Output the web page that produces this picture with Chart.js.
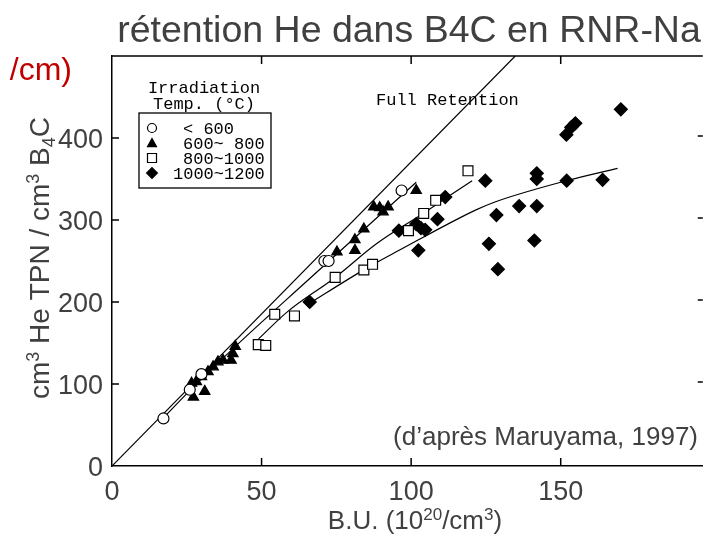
<!DOCTYPE html>
<html>
<head>
<meta charset="utf-8">
<script src="https://cdn.jsdelivr.net/npm/chart.js@4.4.1/dist/chart.umd.min.js"></script>
<style>
  html, body { margin: 0; padding: 0; background: #fff; }
  #wrap { width: 711px; height: 535px; }
</style>
</head>
<body>
<div id="wrap"><canvas id="chart" width="711" height="535"></canvas></div>
<script>
// --- values (B.U. in 1e20/cm3, He in cm3 TPN / cm3 B4C)
const xTicks = [0, 50, 100, 150];
const yTicks = [0, 100, 200, 300, 400];

// < 600 °C
const circleX = [17.2, 26.0, 29.9, 71.0, 72.4, 96.8];
const circleY = [58, 93, 112, 250, 250, 336];
// 600~800 °C
const triX = [27.2, 31.0, 26.6, 28.2, 29.9, 32.1, 33.8, 35.4, 37.1, 39.8, 40.4, 41.2,
              75.2, 81.2, 81.2, 84.2, 87.5, 89.5, 90.6, 92.3, 101.7];
const triY = [84, 91, 101, 103, 109, 115, 121, 127, 129, 129, 137, 146,
              261, 263, 276, 289, 316, 315, 310, 316, 336];
// 800~1000 °C
const squareX = [48.9, 51.4, 54.4, 61.0, 74.6, 84.2, 87.1, 99.1, 104.2, 108.2, 119.0];
const squareY = [148, 147, 185, 183, 230, 239, 246, 287, 308, 324, 360];
// 1000~1200 °C
const diamX = [66.1, 95.9, 101.7, 103.3, 104.7, 102.4, 108.8, 111.4, 124.8, 126.0, 128.5,
               129.0, 136.1, 142.0, 141.2, 142.0, 142.0, 152.0, 151.9, 153.5, 154.9, 164.0, 170.1];
const diamY = [200, 287, 295, 290, 288, 263, 301, 328, 348, 271, 306,
               240, 317, 317, 275, 357, 350, 348, 404, 413, 418, 349, 435];

// hand-drawn fit curves of the original
const fullX = [0, 134.8];
const fullY = [0, 500];
const fitTriX = [17, 26, 41, 65, 101.7];
const fitTriY = [58, 92, 145, 225, 346];
const fitSqX = [49, 58.6, 74.6, 88.4, 104, 120.4];
const fitSqY = [155, 188, 230, 271, 308, 348];
const fitDiamX = [65, 85, 96, 121.5, 128, 152, 169];
const fitDiamY = [196, 241, 263, 312, 322, 348, 363];

const legendLabels = ['< 600', '600~ 800', '800~1000', '1000~1200'];

const pts = (xs, ys) => xs.map((x, i) => ({ x: x, y: ys[i] }));

const SANS = "'Liberation Sans', Arial, sans-serif";
const MONO = "'Liberation Mono', 'Courier New', monospace";
const GREY = '#404040';

// draw text with superscript / subscript pieces
function richText(ctx, parts, x, y, size) {
    const small = Math.round(size * 0.66);
    let w = 0;
    parts.forEach(p => {
        ctx.font = (p.s ? small : size) + 'px ' + SANS;
        w += ctx.measureText(p.t).width;
    });
    let cx = x - w / 2;
    ctx.textAlign = 'left';
    ctx.textBaseline = 'alphabetic';
    parts.forEach(p => {
        ctx.font = (p.s ? small : size) + 'px ' + SANS;
        let dy = 0;
        if (p.s === 'sup') dy = -size * 0.36;
        if (p.s === 'sub') dy = size * 0.2;
        ctx.fillText(p.t, cx, y + dy);
        cx += ctx.measureText(p.t).width;
    });
}

function marker(ctx, style, x, y, r) {
    ctx.beginPath();
    if (style === 'circle') {
        ctx.arc(x, y, r, 0, Math.PI * 2);
    } else if (style === 'triangle') {
        ctx.moveTo(x, y - r);
        ctx.lineTo(x + r, y + r * 0.8);
        ctx.lineTo(x - r, y + r * 0.8);
        ctx.closePath();
    } else if (style === 'rect') {
        ctx.rect(x - r, y - r, 2 * r, 2 * r);
    } else {
        ctx.moveTo(x, y - r * 1.2);
        ctx.lineTo(x + r * 1.2, y);
        ctx.lineTo(x, y + r * 1.2);
        ctx.lineTo(x - r * 1.2, y);
        ctx.closePath();
    }
    const open = style === 'circle' || style === 'rect';
    ctx.fillStyle = open ? '#fff' : '#000';
    ctx.fill();
    ctx.lineWidth = 1.2;
    ctx.strokeStyle = '#000';
    ctx.stroke();
}

const decor = {
    id: 'decor',
    afterDraw(chart) {
        const ctx = chart.ctx;
        const a = chart.chartArea;
        const xs = chart.scales.x, ys = chart.scales.y;
        ctx.save();

        // frame top + inward ticks
        ctx.strokeStyle = '#000';
        ctx.lineWidth = 1.5;
        ctx.beginPath();
        ctx.moveTo(a.left, a.top);
        ctx.lineTo(a.right, a.top);
        xTicks.slice(1).forEach(v => {
            const px = xs.getPixelForValue(v);
            ctx.moveTo(px, a.bottom); ctx.lineTo(px, a.bottom - 8);
            ctx.moveTo(px, a.top); ctx.lineTo(px, a.top + 8);
        });
        yTicks.slice(1).forEach(v => {
            const py = ys.getPixelForValue(v);
            ctx.moveTo(a.left, py); ctx.lineTo(a.left + 7, py);
            ctx.moveTo(a.right, py - 2); ctx.lineTo(a.right - 5, py - 2);
        });
        ctx.stroke();

        // legend
        ctx.fillStyle = '#000';
        ctx.font = '17px ' + MONO;
        ctx.textAlign = 'center';
        ctx.textBaseline = 'middle';
        ctx.fillText('Irradiation', 204, 88);
        ctx.fillText('Temp. (\u00B0C)', 204, 104);
        ctx.lineWidth = 1.3;
        ctx.strokeRect(139, 113, 132, 75);
        const styles = ['circle', 'triangle', 'rect', 'rectRot'];
        const textX = [183, 183, 183, 173];
        legendLabels.forEach((lab, i) => {
            const ly = 128 + i * 15;
            marker(ctx, styles[i], 152, ly, 4.5);
            ctx.fillStyle = '#000';
            ctx.font = '17px ' + MONO;
            ctx.textAlign = 'left';
            ctx.textBaseline = 'middle';
            ctx.fillText(lab, textX[i], ly + 1);
        });

        // annotation of the reference line
        ctx.fillStyle = '#000';
        ctx.font = '17px ' + MONO;
        ctx.textAlign = 'left';
        ctx.textBaseline = 'middle';
        ctx.fillText('Full Retention', 376, 100);

        // source
        ctx.fillStyle = GREY;
        ctx.font = '26px ' + SANS;
        ctx.textAlign = 'right';
        ctx.textBaseline = 'middle';
        ctx.fillText('(d\u2019apr\u00E8s Maruyama, 1997)', 698, 438);

        // title and cut-off red fragment
        ctx.fillStyle = GREY;
        ctx.font = '37.5px ' + SANS;
        ctx.textAlign = 'center';
        ctx.textBaseline = 'alphabetic';
        ctx.fillText('r\u00E9tention He dans B4C en RNR-Na', 409, 42);
        ctx.fillStyle = '#c00000';
        ctx.font = '32px ' + SANS;
        ctx.textAlign = 'right';
        ctx.fillText('/cm)', 72, 80);

        // axis titles
        ctx.fillStyle = GREY;
        richText(ctx, [{ t: 'B.U. (10' }, { t: '20', s: 'sup' }, { t: '/cm' }, { t: '3', s: 'sup' }, { t: ')' }],
                 415, 529, 26);
        ctx.save();
        ctx.translate(49, 258);
        ctx.rotate(-Math.PI / 2);
        richText(ctx, [{ t: 'cm' }, { t: '3', s: 'sup' }, { t: ' He TPN / cm' }, { t: '3', s: 'sup' },
                       { t: ' B' }, { t: '4', s: 'sub' }, { t: 'C' }], 0, 0, 28);
        ctx.restore();

        ctx.restore();
    }
};

const lineDs = (xs, ys) => ({
    data: pts(xs, ys),
    showLine: true,
    pointRadius: 0,
    borderColor: '#000',
    borderWidth: 1.2,
    cubicInterpolationMode: 'monotone',
    order: 2
});

const markDs = (xs, ys, style, open, r) => ({
    data: pts(xs, ys),
    pointStyle: style,
    pointRadius: r,
    pointBackgroundColor: open ? '#fff' : '#000',
    pointBorderColor: '#000',
    pointBorderWidth: 1.2,
    order: 1
});

new Chart(document.getElementById('chart'), {
    type: 'scatter',
    data: {
        datasets: [
            markDs(circleX, circleY, 'circle', true, 5.5),
            markDs(triX, triY, 'triangle', false, 6),
            markDs(squareX, squareY, 'rect', true, 7),
            markDs(diamX, diamY, 'rectRot', false, 6.5),
            lineDs(fullX, fullY),
            lineDs(fitTriX, fitTriY),
            lineDs(fitSqX, fitSqY),
            lineDs(fitDiamX, fitDiamY)
        ]
    },
    options: {
        responsive: false,
        animation: false,
        devicePixelRatio: 1,
        layout: { padding: { top: 56, left: 0, right: 0, bottom: 0 } },
        plugins: { legend: { display: false }, tooltip: { enabled: false } },
        scales: {
            x: {
                type: 'linear',
                min: 0,
                max: 197.5,
                afterFit: s => { s.height = 69; },
                afterBuildTicks: s => { s.ticks = xTicks.map(v => ({ value: v })); },
                ticks: { font: { family: SANS, size: 27 }, color: GREY, padding: 10, maxRotation: 0 },
                grid: { display: false, drawTicks: false },
                border: { display: true, color: '#000', width: 1.5 }
            },
            y: {
                type: 'linear',
                min: 0,
                max: 500,
                afterFit: s => { s.width = 112; },
                afterBuildTicks: s => { s.ticks = yTicks.map(v => ({ value: v })); },
                ticks: { font: { family: SANS, size: 27 }, color: GREY, padding: 9, labelOffset: 3 },
                grid: { display: false, drawTicks: false },
                border: { display: true, color: '#000', width: 1.5 }
            }
        }
    },
    plugins: [decor]
});
</script>
</body>
</html>
